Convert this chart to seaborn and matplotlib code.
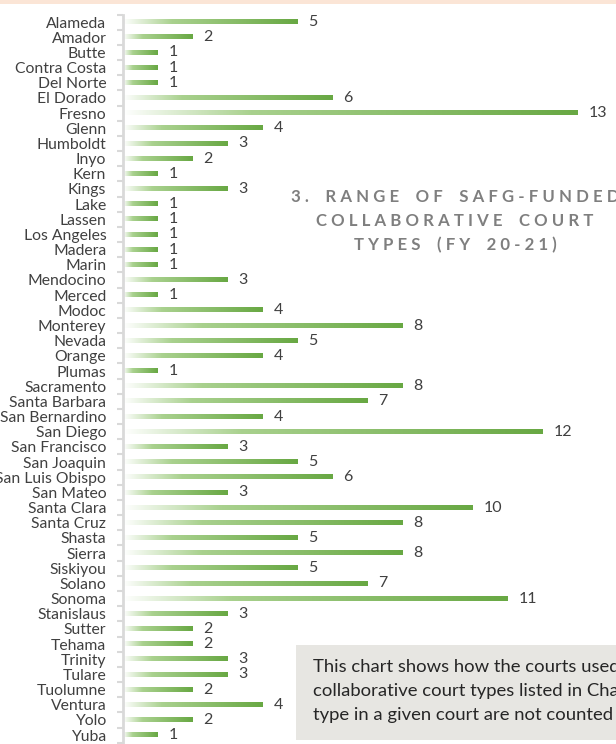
import numpy as np
import pandas as pd
import matplotlib.pyplot as plt
import seaborn as sb
from matplotlib.colors import LinearSegmentedColormap
from matplotlib.patches import Rectangle
from matplotlib.ticker import FixedLocator

counties = ["Alameda", "Amador", "Butte", "Contra Costa", "Del Norte", "El Dorado",
            "Fresno", "Glenn", "Humboldt", "Inyo", "Kern", "Kings", "Lake", "Lassen",
            "Los Angeles", "Madera", "Marin", "Mendocino", "Merced", "Modoc",
            "Monterey", "Nevada", "Orange", "Plumas", "Sacramento", "Santa Barbara",
            "San Bernardino", "San Diego", "San Francisco", "San Joaquin",
            "San Luis Obispo", "San Mateo", "Santa Clara", "Santa Cruz", "Shasta",
            "Sierra", "Siskiyou", "Solano", "Sonoma", "Stanislaus", "Sutter",
            "Tehama", "Trinity", "Tulare", "Tuolumne", "Ventura", "Yolo", "Yuba"]
court_types = [5, 2, 1, 1, 1, 6, 13, 4, 3, 2, 1, 3, 1, 1, 1, 1, 1, 3, 1, 4,
               8, 5, 4, 1, 8, 7, 4, 12, 3, 5, 6, 3, 10, 8, 5, 8, 5, 7, 11, 3,
               2, 2, 3, 3, 2, 4, 2, 1]

title_lines = ["3. RANGE OF SAFG-FUNDED", "COLLABORATIVE COURT", "TYPES (FY 20-21)"]
note_lines = ["This chart shows how the courts used SAFG funds",
              "collaborative court types listed in Chart 2. Multiple",
              "type in a given court are not counted separately."]

df = pd.DataFrame({"county": counties, "n": court_types})

sb.set_style("white")
plt.rcParams['font.family'] = ['Lato', 'DejaVu Sans']

fig = plt.figure(figsize=(6.16, 7.44), dpi=100)
ax = fig.add_axes([123 / 616, 1.3 / 744, 1 - 123 / 616, (742.6 - 14.4) / 744])

sb.barplot(data=df, x="n", y="county", orient="h", color="#70ad47", width=0.28, ax=ax)

# each bar fades from white on the left to green on the right
green = LinearSegmentedColormap.from_list(
    "g", [(0, "#ffffff"), (0.28, "#a9d18e"), (1, "#68a843")])
grad = np.linspace(0, 1, 256).reshape(1, -1)
for p in ax.patches:
    x0, y0 = p.get_x(), p.get_y()
    w, h = p.get_width(), p.get_height()
    p.set_visible(False)
    ax.imshow(grad, extent=[x0, x0 + w, y0 + h, y0], cmap=green, aspect="auto",
              interpolation="bicubic", zorder=2)
    ax.text(x0 + w + 0.3, y0 + h / 2, str(int(w)), va="center", ha="left",
            fontsize=11.5, color="#404040")

ax.set_xlim(0, (616 - 123) / 35)
ax.set_ylim(len(counties) - 0.5, -0.5)
ax.set_xlabel("")
ax.set_ylabel("")
ax.set_xticks([])
for s in ["top", "right", "bottom"]:
    ax.spines[s].set_visible(False)
ax.spines["left"].set_color("#d9d9d9")
ax.spines["left"].set_linewidth(2)
ax.yaxis.set_minor_locator(FixedLocator(np.arange(-0.5, len(counties), 1)))
ax.tick_params(axis="y", which="major", length=0, pad=12, labelsize=11.3, labelcolor="#404040")
ax.tick_params(axis="y", which="minor", length=4, width=1.5, color="#d9d9d9", left=True)

# peach strip at top
fig.patches.append(Rectangle((0, 1 - 4 / 744), 1, 4 / 744, transform=fig.transFigure,
                             facecolor="#fbe5d6", edgecolor="none"))

# title
for i, line in enumerate(title_lines):
    spaced = " ".join(line).replace("   ", "    ")
    fig.text(455 / 616, 1 - (197 + 24 * i) / 744, spaced, ha="center", va="center",
             fontsize=12.1, fontweight="bold", color="#7f7f7f")

# note box
fig.patches.append(Rectangle((296 / 616, 1 - 740 / 744), 1, 95 / 744, transform=fig.transFigure,
                             facecolor="#e7e6e2", edgecolor="none"))
for i, line in enumerate(note_lines):
    fig.text(313 / 616, 1 - (667 + 24 * i) / 744, line, ha="left", va="center",
             fontsize=13.3, color="#262626")

fig.savefig("out.png", dpi=100)
